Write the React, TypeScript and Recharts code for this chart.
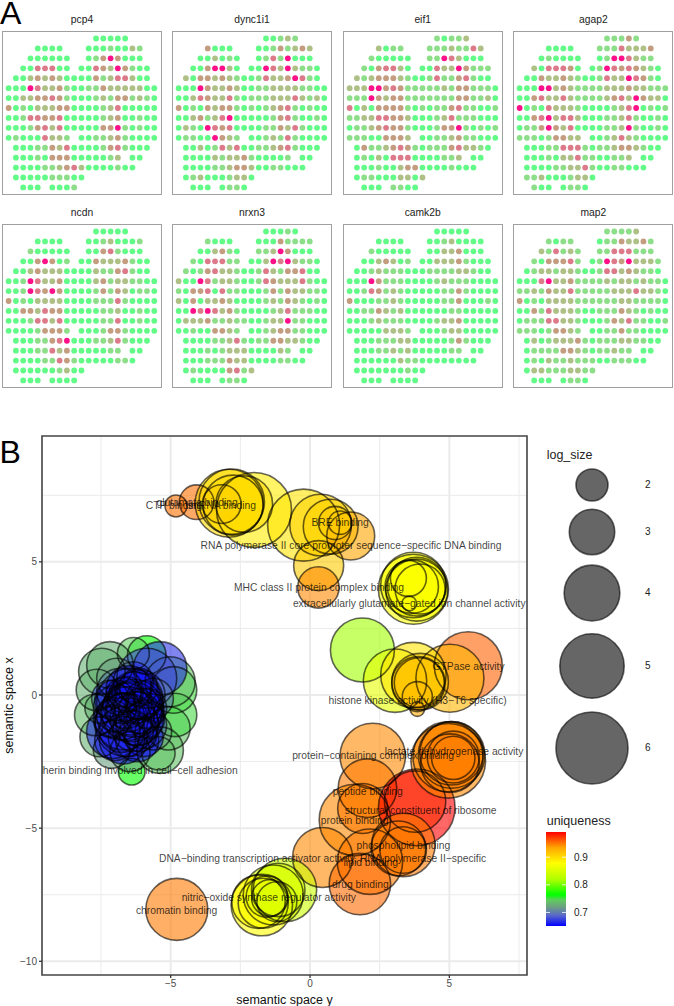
import {
  CartesianGrid,
  Cell,
  ReferenceArea,
  ReferenceLine,
  Scatter,
  ScatterChart,
  XAxis,
  YAxis,
  ZAxis,
} from "recharts";

const FONT = '"Liberation Sans", Arial, sans-serif';

// panel A: spot columns for each row of the tissue section
const spotRows: number[][] = [
  [12, 13, 14, 15, 16],
  [4, 5, 6, 7, 11, 12, 13, 14, 15, 16, 17, 18],
  [3, 4, 5, 6, 7, 8, 11, 12, 13, 14, 15, 16, 17, 18],
  [2, 3, 4, 5, 6, 7, 8, 10, 11, 12, 13, 14, 15, 16, 17, 18, 19],
  [1, 2, 3, 4, 5, 6, 7, 8, 9, 10, 11, 12, 13, 14, 15, 16, 17, 18, 19],
  [0, 1, 2, 3, 4, 5, 6, 7, 8, 9, 10, 11, 12, 13, 14, 15, 16, 17, 18, 19, 20],
  [0, 1, 2, 3, 4, 5, 6, 7, 8, 9, 10, 11, 12, 13, 14, 15, 16, 17, 18, 19, 20],
  [0, 1, 2, 3, 4, 5, 6, 7, 8, 9, 10, 11, 12, 13, 14, 15, 16, 17, 18, 19, 20],
  [0, 1, 2, 3, 4, 5, 6, 7, 8, 9, 10, 11, 12, 13, 14, 15, 16, 17, 18, 19, 20],
  [0, 1, 2, 3, 4, 5, 6, 7, 8, 9, 10, 11, 12, 13, 14, 15, 16, 17, 18, 19, 20],
  [0, 1, 2, 3, 4, 5, 6, 7, 8, 10, 11, 12, 13, 14, 15, 16, 17, 18, 19, 20],
  [1, 2, 3, 4, 5, 6, 7, 8, 9, 10, 11, 12, 13, 14, 15, 16, 17, 18, 19],
  [1, 2, 3, 4, 5, 6, 7, 8, 9, 10, 11, 12, 13, 14, 15, 17, 18],
  [1, 2, 3, 4, 5, 6, 7, 8, 9, 10, 11, 12, 13, 14, 15, 16, 17],
  [1, 2, 3, 4, 5, 6, 7, 8, 9, 10],
  [2, 3, 4, 6, 7, 8, 9],
];

// expression level per spot, 0 (green) to 5 (hot pink), one string per row
const pcp4 = ["00000", "000000010021", "00000001353000", "00444000043253100", "0023232000031244200", "000542231001132222200", "002233431000121331210", "301022233000012400000", "001443340000012300100", "000134240000033510100", "01000422100112310000", "0001132400001341000", "00010333000001200", "00001123420000100", "0000011100", "0000001"];
const dync1i1 = ["00121", "300000131232", "00201001415000", "00355200054252110", "2033232100142235410", "000532232001122221100", "002432241011122242120", "301032331010123410100", "002312450000013410010", "021054340000113241000", "01100532100121410000", "0020142400112341000", "00002122310000100", "00001123320011000", "0120001220", "0000110"];
const eif1 = ["10112", "201111121142", "10000011542000", "10344200042253111", "2123332100141134100", "222553431111121331110", "111532331111111331120", "402033331010113411001", "112244332000124111000", "011234331000133510101", "11100333200112311000", "0311234310111342210", "01020444000011200", "00010023300001000", "0110002202", "0001100"];
const agap2 = ["11131", "000011142223", "01000001554211", "20444300154343210", "0032232100142254310", "000552321111222322111", "003422421111234253220", "501042221000012450101", "003452442000112410010", "011353240000112510010", "11101332200124210000", "0001144410112332100", "00010224110011200", "00001122410011000", "1120001220", "1000110"];
const ncdn = ["00000", "000000120001", "10000000341000", "00353010032223100", "0023222000021134100", "001542230000231221100", "001543530000131320110", "301022220000111410000", "003324330000011200100", "000144240000011400100", "00001333100013310000", "0001134500011241000", "00011423000001100", "00001143100000110", "0000001200", "0000000"];
const nrxn3 = ["00010", "100000031111", "00231011253000", "10444110025452110", "1013422100142133400", "200541221001432224100", "103340411000131322110", "203022320000121321010", "005454231000012411100", "022231121100122511000", "00100332100123311000", "0000112410113322100", "00010122200002100", "00011132200001100", "0100003412", "0000110"];
const camk2b = ["00000", "000000120000", "10000000223000", "00232010022231000", "0012111000111122100", "000531110000121110000", "001431210000011310000", "300011210000011300010", "001132120000001100000", "000121110000122300000", "00000222100012200000", "0001112200000131000", "00011212000001100", "00000021100000000", "0000000100", "0000000"];
const map2 = ["11112", "101101132231", "21412111444111", "10333410154352221", "0122122100144232110", "000452231111212212110", "112132241111122242210", "301022221111112211110", "003142221001113210100", "011144221000132411001", "11101332100113110000", "0201222310111221100", "01111332101121100", "01021121110011100", "0221112211", "0000110"];

const levelColours = ["#62FB88", "#8DDE88", "#AEC086", "#C49C80", "#DC7A8A", "#FF1088"];

const topGenes = [
  { gene: "pcp4", levels: pcp4 },
  { gene: "dync1i1", levels: dync1i1 },
  { gene: "eif1", levels: eif1 },
  { gene: "agap2", levels: agap2 },
];
const bottomGenes = [
  { gene: "ncdn", levels: ncdn },
  { gene: "nrxn3", levels: nrxn3 },
  { gene: "camk2b", levels: camk2b },
  { gene: "map2", levels: map2 },
];

// panel B bubbles: semantic y, semantic x, log_size, uniqueness
type Bubble = [number, number, number, number];

const upperBubbles: Bubble[] = [
  [-4.81, 7.1, 1.48, 0.953],
  [-4.07, 7.24, 2.17, 0.953],
  [-2.81, 7.26, 5.13, 0.9],
  [-2.01, 6.95, 6.42, 0.89],
  [-2.9, 7.2, 5.46, 0.9],
  [-2.36, 7.17, 4.1, 0.9],
  [-3.17, 7.17, 2.46, 0.92],
  [-2.76, 7.13, 4.48, 0.9],
  [-0.23, 6.38, 6, 0.895],
  [0.38, 6.38, 4.67, 0.905],
  [0.74, 6.32, 3.9, 0.905],
  [1.46, 5.97, 3.23, 0.935],
  [1.08, 6.47, 1.54, 0.91],
  [0.9, 6.46, 2.08, 0.91],
  [0.31, 4.86, 3.42, 0.91],
  [0.3, 4.04, 2.66, 0.945],
  [3.71, 3.97, 5.73, 0.875],
  [3.83, 4.07, 4.32, 0.875],
  [3.65, 4.07, 3.76, 0.875],
  [3.95, 3.98, 3.42, 0.875],
  [3.53, 4.38, 2.26, 0.875],
  [3.56, 3.44, 1.22, 0.88],
  [3.83, 3.94, 4.71, 0.875],
  [3.71, 4.13, 5.13, 0.875],
  [1.88, 1.69, 4.95, 0.815],
  [5.68, 1.1, 5.46, 0.958],
  [5.02, 0.63, 5.46, 0.925],
  [3.05, 0.54, 4.88, 0.86],
  [3.71, 0.75, 5.13, 0.895],
  [3.95, 0.5, 4.1, 0.91],
  [3.92, 0.46, 3.42, 0.915],
  [3.89, 0.44, 3.76, 0.915],
  [3.85, -0.06, 1.88, 0.92],
  [3.85, -0.53, 1.22, 0.93],
];

const lowerBubbles: Bubble[] = [
  [2.25, -2.29, 5.13, 0.945],
  [2.06, -3.5, 4.32, 0.95],
  [1.61, -4.69, 5.92, 0.945],
  [1.89, -4.26, 3.42, 0.95],
  [0.45, -6.1, 4.48, 0.945],
  [2.15, -6.26, 5.13, 0.95],
  [1.79, -7.1, 4.64, 0.955],
  [3.83, -4.22, 6.66, 0.99],
  [3.77, -4.0, 4.64, 0.975],
  [3.35, -5.63, 4.88, 0.95],
  [3.17, -5.76, 3.9, 0.95],
  [3.34, -5.82, 3.1, 0.95],
  [4.96, -2.47, 6.37, 0.945],
  [5.08, -2.19, 4.88, 0.945],
  [5.08, -2.25, 5.28, 0.945],
  [4.95, -2.32, 5.73, 0.945],
  [5.02, -2.56, 4.32, 0.948],
  [5.14, -2.33, 3.6, 0.948],
  [5.14, -2.36, 2.82, 0.948],
  [-4.78, -8.05, 4.71, 0.95],
  [-0.9, -7.32, 4.88, 0.84],
  [-1.14, -7.32, 3.76, 0.85],
  [-1.32, -7.51, 4.48, 0.85],
  [-1.73, -7.89, 4.64, 0.88],
  [-1.85, -7.76, 3.76, 0.88],
  [-1.68, -7.82, 3.42, 0.875],
  [-1.55, -7.57, 2.66, 0.86],
  [-1.44, -7.62, 2.3, 0.86],
  [-1.19, -7.76, 2.55, 0.85],
];

const clusterBubbles: Bubble[] = [
  [-5.86, 1.5, 2.45, 0.765],
  [-6.34, 1.56, 2.0, 0.745],
  [-7.18, 1.13, 3.1, 0.73],
  [-7.47, 0.88, 3.1, 0.73],
  [-7.65, 0.19, 2.66, 0.73],
  [-7.71, -0.75, 2.66, 0.735],
  [-7.54, -1.57, 2.55, 0.73],
  [-7.12, -2.07, 2.3, 0.72],
  [-6.4, -2.88, 1.7, 0.765],
  [-6.46, -2.13, 2.55, 0.72],
  [-5.44, -2.19, 2.08, 0.74],
  [-5.38, -2.07, 3.1, 0.74],
  [-5.08, -1.25, 2.82, 0.74],
  [-4.84, -0.75, 2.82, 0.75],
  [-4.9, 0.19, 3.1, 0.75],
  [-5.02, 0.5, 3.42, 0.74],
  [-5.38, 1.0, 3.76, 0.67],
  [-5.86, 0.63, 4.48, 0.68],
  [-6.46, -0.25, 5.28, 0.66],
  [-6.4, -0.63, 4.48, 0.66],
  [-6.58, -1.13, 4.88, 0.665],
  [-6.7, -1.0, 4.1, 0.66],
  [-6.22, -0.88, 3.76, 0.66],
  [-6.1, 0, 3.42, 0.66],
  [-6.94, -0.5, 3.1, 0.66],
  [-5.98, -1.13, 3.1, 0.66],
  [-6.82, 0.13, 3.1, 0.68],
  [-6.34, 0.5, 2.55, 0.67],
  [-7.06, -1.38, 3.76, 0.67],
  [-6.58, -1.63, 2.3, 0.68],
  [-5.86, -0.5, 2.55, 0.66],
  [-7.18, -0.13, 2.3, 0.68],
  [-6.46, -0.75, 2.08, 0.66],
  [-6.76, -0.5, 1.88, 0.66],
  [-6.16, -0.38, 1.7, 0.66],
  [-6.58, 0.13, 1.88, 0.66],
  [-6.1, -1.5, 2.08, 0.68],
  [-6.94, 0.63, 2.55, 0.72],
  [-5.62, -0.13, 2.55, 0.7],
  [-7.54, -0.5, 1.88, 0.73],
  [-5.62, -1.38, 2.3, 0.72],
  [-7.18, -1.0, 1.88, 0.7],
  [-6.6, -0.4, 3.0, 0.655],
  [-6.3, -0.1, 3.6, 0.655],
  [-6.8, -0.8, 3.2, 0.655],
  [-6.2, -1.1, 2.8, 0.655],
  [-6.5, 0.25, 3.0, 0.66],
  [-6.05, -0.6, 3.0, 0.66],
  [-7.0, -0.2, 2.6, 0.66],
  [-6.75, -1.3, 3.0, 0.66],
  [-6.35, -1.35, 2.6, 0.66],
  [-5.95, -0.15, 2.3, 0.66],
  [-6.55, -0.7, 3.8, 0.655],
  [-6.3, -0.5, 4.2, 0.655],
  [-6.7, 0.0, 2.2, 0.66],
  [-6.15, 0.3, 2.4, 0.66],
  [-7.1, -0.9, 2.4, 0.67],
  [-5.9, -0.9, 2.4, 0.66],
  [-6.7, -1.7, 3.2, 0.66],
  [-6.2, -1.7, 2.8, 0.66],
  [-7.0, -1.7, 2.6, 0.67],
  [-5.95, -1.6, 2.4, 0.665],
];

const goLabels: [string, number, number][] = [
  ["CTP binding", -4.88, 7.1],
  ["glutamate binding", -4.05, 7.23],
  ["snRNA binding", -3.16, 7.13],
  ["BRE binding", 1.08, 6.49],
  ["RNA polymerase II core promoter sequence\u2212specific DNA binding", 1.47, 5.61],
  ["MHC class II protein complex binding", 0.32, 4.03],
  ["extracellularly glutamate\u2212gated ion channel activity", 3.56, 3.42],
  ["GTPase activity", 5.69, 1.06],
  ["histone kinase activity (H3\u2212T6 specific)", 3.86, -0.19],
  ["protein\u2212containing complex binding", 2.26, -2.29],
  ["lactate dehydrogenase activity", 5.17, -2.14],
  ["peptide binding", 2.07, -3.63],
  ["structural constituent of ribosome", 3.97, -4.34],
  ["protein binding", 1.6, -4.71],
  ["phospholipid binding", 3.35, -5.66],
  ["DNA\u2212binding transcription activator activity, RNA polymerase II\u2212specific", 0.45, -6.13],
  ["lipid binding", 2.18, -6.28],
  ["drug binding", 1.81, -7.1],
  ["nitric\u2212oxide synthase regulator activity", -1.48, -7.6],
  ["chromatin binding", -4.79, -8.08],
  ["cadherin binding involved in cell\u2212cell adhesion", -6.39, -2.82],
];

const sizeLegend = [2, 3, 4, 5, 6];
const sizeLegendCentres = [485, 531.7, 593.3, 666, 747.7];
const uniquenessTicks = [0.7, 0.8, 0.9];

// bubble area grows linearly with log_size
const SIZE_DOMAIN = [1.2, 6.7];
const SIZE_RANGE = [151, 4643];

// ggplot interpolates blue-green-yellow-red in Lab, hence the greyish stretch
const uniquenessStops: [number, string][] = [
  [0.651, "#0000FF"],
  [0.69, "#5A6AC8"],
  [0.72, "#6CA080"],
  [0.745, "#60CC60"],
  [0.764, "#00FF00"],
  [0.82, "#B0FF00"],
  [0.878, "#FFFF00"],
  [0.935, "#FFA500"],
  [0.991, "#FF0000"],
];

function uniquenessColour(value: number): string {
  const stops = uniquenessStops;
  let i = 0;
  while (i < stops.length - 2 && value > stops[i + 1][0]) i++;
  const [v0, c0] = stops[i];
  const [v1, c1] = stops[i + 1];
  const t = Math.min(1, Math.max(0, (value - v0) / (v1 - v0)));
  const channel = (pos: number) => {
    const a = parseInt(c0.slice(pos, pos + 2), 16);
    const b = parseInt(c1.slice(pos, pos + 2), 16);
    return Math.round(a + (b - a) * t)
      .toString(16)
      .padStart(2, "0");
  };
  return `#${channel(1)}${channel(3)}${channel(5)}`;
}

const bubbles = [...upperBubbles, ...lowerBubbles, ...clusterBubbles].map(
  ([x, y, logSize, uniqueness]) => ({ x, y, logSize, uniqueness }),
);
const labelPoints = goLabels.map(([name, x, y]) => ({ name, x, y }));

function renderSpot(p: any) {
  return <circle cx={p.cx} cy={p.cy} r={2.9} fill={levelColours[p.payload.level]} />;
}

function SpotPanel({ gene, levels, left, top }: { gene: string; levels: string[]; left: number; top: number }) {
  const spots = spotRows.flatMap((cols, row) =>
    cols.map((col, i) => ({ col, row, level: Number(levels[row][i] ?? 0) })),
  );
  return (
    <div style={{ position: "absolute", left, top, width: 160, height: 164 }}>
      <div
        style={{
          position: "absolute",
          left: 0,
          right: 0,
          top: -17,
          textAlign: "center",
          fontSize: 10.3,
          lineHeight: "12px",
          color: "#222",
        }}
      >
        {gene}
      </div>
      <div
        style={{
          position: "absolute",
          inset: 0,
          border: "1.3px solid #a0a0a0",
          boxSizing: "border-box",
        }}
      />
      <ScatterChart width={160} height={164} margin={{ top: 0, right: 0, bottom: 0, left: 0 }}>
        <XAxis type="number" dataKey="col" domain={[-0.91, 21.06]} hide allowDataOverflow />
        <YAxis type="number" dataKey="row" domain={[-0.755, 15.76]} reversed hide allowDataOverflow />
        <Scatter data={spots} shape={renderSpot} isAnimationActive={false} />
      </ScatterChart>
    </div>
  );
}

function Floating({ left, top, size, lineHeight = size, children, color = "#222" }: any) {
  return (
    <div style={{ position: "absolute", left, top, fontSize: size, lineHeight: `${lineHeight}px`, color, whiteSpace: "nowrap" }}>
      {children}
    </div>
  );
}

function SizeKey({ logSize, centre }: { logSize: number; centre: number }) {
  const point = [{ x: 0, y: 0, logSize }];
  return (
    <div style={{ position: "absolute", left: 547, top: centre - 45, width: 90, height: 90 }}>
      <ScatterChart width={90} height={90} margin={{ top: 0, right: 0, bottom: 0, left: 0 }}>
        <XAxis type="number" dataKey="x" domain={[-1, 1]} hide />
        <YAxis type="number" dataKey="y" domain={[-1, 1]} hide />
        <ZAxis type="number" dataKey="logSize" domain={SIZE_DOMAIN} range={SIZE_RANGE} />
        <Scatter data={point} fill="#000" fillOpacity={0.6} isAnimationActive={false} />
        <Scatter data={point} fill="none" stroke="#000" strokeOpacity={0.6} strokeWidth={1.6} isAnimationActive={false} />
      </ScatterChart>
    </div>
  );
}

function UniquenessBar() {
  return (
    <div style={{ position: "absolute", left: 546, top: 831.5 }}>
      <ScatterChart width={60} height={94} margin={{ top: 0, right: 0, bottom: 0, left: 0 }}>
        <defs>
          <linearGradient id="uniquenessGradient" x1="0" y1="1" x2="0" y2="0">
            {uniquenessStops.map(([value, colour]) => (
              <stop key={value} offset={(value - 0.651) / (0.991 - 0.651)} stopColor={colour} />
            ))}
          </linearGradient>
        </defs>
        <XAxis type="number" dataKey="x" domain={[0, 3]} hide />
        <YAxis
          type="number"
          dataKey="y"
          domain={[0.651, 0.991]}
          ticks={uniquenessTicks}
          orientation="right"
          width={40}
          axisLine={false}
          tickLine={false}
          tick={{ fontSize: 10, fill: "#222" }}
          tickFormatter={(v: number) => v.toFixed(1)}
        />
        <ReferenceArea x1={0} x2={3} y1={0.651} y2={0.991} fill="url(#uniquenessGradient)" fillOpacity={1} stroke="none" />
        {uniquenessTicks.map((t) => (
          <ReferenceLine key={t} y={t} stroke="#fff" strokeWidth={0.8} strokeDasharray="4 12 4 0" />
        ))}
        <Scatter data={uniquenessTicks.map((y) => ({ x: 1, y }))} fill="none" isAnimationActive={false} />
      </ScatterChart>
    </div>
  );
}

function BubblePanel() {
  const renderLabel = (p: any) => (
    <text
      x={p.cx}
      y={p.cy}
      textAnchor="middle"
      dominantBaseline="central"
      fontSize={10.3}
      fill="#000"
      fillOpacity={0.75}
      clipPath="url(#bubblePanelClip)"
    >
      {p.payload.name}
    </text>
  );
  return (
    <div style={{ position: "absolute", left: 0, top: 430 }}>
      <ScatterChart width={540} height={576} margin={{ top: 6, right: 13, bottom: 0, left: 0 }}>
        <defs>
          <clipPath id="bubblePanelClip">
            <rect x={42} y={6} width={485} height={539} />
          </clipPath>
        </defs>
        <CartesianGrid
          stroke="#ebebeb"
          strokeWidth={1}
          verticalValues={[-7.5, -2.5, 2.5, 7.5]}
          horizontalValues={[7.5, 2.5, -2.5, -7.5]}
        />
        <CartesianGrid
          stroke="#ebebeb"
          strokeWidth={2}
          verticalValues={[-5, 0, 5]}
          horizontalValues={[5, 0, -5, -10]}
        />
        <XAxis
          type="number"
          dataKey="x"
          domain={[-9.618, 7.786]}
          ticks={[-5, 0, 5]}
          height={31}
          allowDataOverflow
          axisLine={false}
          tickSize={3}
          tickLine={{ stroke: "#333", strokeWidth: 1.3 }}
          tick={{ fontSize: 10, fill: "#4d4d4d" }}
          tickFormatter={(v: number) => String(v).replace("-", "\u2212")}
          label={{ value: "semantic space y", position: "insideBottom", offset: 2, fontSize: 12.5, fill: "#111" }}
        />
        <YAxis
          type="number"
          dataKey="y"
          domain={[-10.514, 9.726]}
          ticks={[-10, -5, 0, 5]}
          width={42}
          allowDataOverflow
          axisLine={false}
          tickSize={3}
          tickLine={{ stroke: "#333", strokeWidth: 1.3 }}
          tick={{ fontSize: 10, fill: "#4d4d4d" }}
          tickFormatter={(v: number) => String(v).replace("-", "\u2212")}
          label={{ value: "semantic space x", angle: -90, position: "insideLeft", offset: 9, fontSize: 12.5, fill: "#111", style: { textAnchor: "middle" } }}
        />
        <ZAxis type="number" dataKey="logSize" domain={SIZE_DOMAIN} range={SIZE_RANGE} />
        <Scatter data={bubbles} fillOpacity={0.6} isAnimationActive={false}>
          {bubbles.map((b, i) => (
            <Cell key={i} fill={uniquenessColour(b.uniqueness)} />
          ))}
        </Scatter>
        <Scatter
          data={bubbles}
          fill="none"
          stroke="#000"
          strokeOpacity={0.6}
          strokeWidth={1.6}
          isAnimationActive={false}
        />
        <Scatter data={labelPoints} shape={renderLabel} isAnimationActive={false} />
        <ReferenceArea
          x1={-9.618}
          x2={7.786}
          y1={-10.514}
          y2={9.726}
          fill="none"
          stroke="#444"
          strokeWidth={1.6}
        />
      </ScatterChart>
    </div>
  );
}

export default function App() {
  return (
    <div style={{ position: "absolute", left: 0, top: 0, width: 674, height: 1006, overflow: "hidden", background: "#fff", fontFamily: FONT }}>
      <Floating left={0} top={0.6} size={32} lineHeight={24} color="#000">A</Floating>
      <Floating left={-0.6} top={435.6} size={32} color="#000">B</Floating>

      {topGenes.map((g, i) => (
        <SpotPanel key={g.gene} gene={g.gene} levels={g.levels} left={[2, 172, 342.7, 513.3][i]} top={31} />
      ))}
      {bottomGenes.map((g, i) => (
        <SpotPanel key={g.gene} gene={g.gene} levels={g.levels} left={[2, 172, 342.7, 513.3][i]} top={223.5} />
      ))}

      <BubblePanel />

      <Floating left={546.7} top={449} size={12.5}>log_size</Floating>
      {sizeLegend.map((s, i) => (
        <SizeKey key={s} logSize={s} centre={sizeLegendCentres[i]} />
      ))}
      {sizeLegend.map((s, i) => (
        <Floating key={s} left={645} top={sizeLegendCentres[i] - 5} size={10}>{s}</Floating>
      ))}

      <Floating left={546.7} top={815} size={12.5}>uniqueness</Floating>
      <UniquenessBar />
    </div>
  );
}
